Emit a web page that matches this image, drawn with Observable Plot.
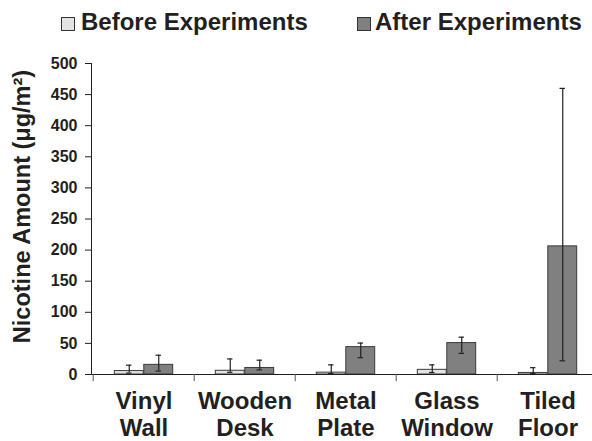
<!DOCTYPE html>
<html>
<head>
<meta charset="utf-8">
<script src="https://cdn.jsdelivr.net/npm/d3@7"></script>
<script src="https://cdn.jsdelivr.net/npm/@observablehq/plot@0.6"></script>
<style>
  html, body { margin: 0; padding: 0; background: #fff; }
  body { width: 592px; height: 441px; overflow: hidden; font-family: "Liberation Sans", Arial, sans-serif; color: #231f20; }
  #legend { position: relative; height: 42px; font-weight: bold; font-size: 24px; line-height: 24px; }
  .sw { position: absolute; top: 17px; width: 12px; height: 12px; border: 1px solid #333; }
  .lt { position: absolute; top: 10px; white-space: nowrap; }
  svg { display: block; }
</style>
</head>
<body>
<div id="legend"></div>
<div id="chart"></div>
<script>
const categories = ["Vinyl Wall", "Wooden Desk", "Metal Plate", "Glass Window", "Tiled Floor"];
const seriesNames = ["Before Experiments", "After Experiments"];
const beforeValues = [5.5, 6, 3, 7.5, 2.5];
const beforeLow = [2.3, 3.5, 1.6, 3.2, 1.5];
const beforeHigh = [15, 25, 15.5, 15.5, 11];
const afterValues = [15.5, 10.5, 44, 50.5, 206];
const afterLow = [5.5, 7.5, 27, 34, 22];
const afterHigh = [31, 23, 50.5, 60, 460];
const yTicks = [0, 50, 100, 150, 200, 250, 300, 350, 400, 450, 500];
const yTitle = "Nicotine Amount (μg/m²)";
const colors = ["#e3e3e3", "#808080"];

const rows = categories.map((c, i) => ({
  cat: c,
  before: beforeValues[i], bLo: beforeLow[i], bHi: beforeHigh[i],
  after: afterValues[i], aLo: afterLow[i], aHi: afterHigh[i]
}));

// legend
const legend = document.getElementById("legend");
const swX = [61, 357];
const txX = [81, 375];
seriesNames.forEach((s, i) => {
  const sw = document.createElement("span");
  sw.className = "sw";
  sw.style.left = swX[i] + "px";
  sw.style.background = colors[i];
  const t = document.createElement("span");
  t.className = "lt";
  t.style.left = txX[i] + "px";
  t.textContent = s;
  legend.appendChild(sw);
  legend.appendChild(t);
});

const step = (599 - 91) / categories.length;
const barW = 29.5;
const half = step / 2;
const capW = 6;
const ink = "#231f20";

const chart = Plot.plot({
  width: 592,
  height: 399,
  marginLeft: 91,
  marginRight: 0,
  marginTop: 21,
  marginBottom: 67,
  style: { fontFamily: "'Liberation Sans', Arial, sans-serif", color: ink, background: "#fff" },
  x: { type: "band", domain: categories, range: [91, 599], padding: 0 },
  y: { domain: [0, 500], range: [332, 21] },
  marks: [
    // bars
    Plot.barY(rows, { x: "cat", y: "before", fill: colors[0], stroke: "#3a3a3a", strokeWidth: 1,
      insetLeft: half - barW, insetRight: half }),
    Plot.barY(rows, { x: "cat", y: "after", fill: colors[1], stroke: "#3a3a3a", strokeWidth: 1,
      insetLeft: half, insetRight: half - barW }),
    // error bars
    Plot.ruleX(rows, { x: "cat", y1: "bLo", y2: "bHi", dx: -barW / 2, stroke: ink, strokeWidth: 1.2 }),
    Plot.ruleX(rows, { x: "cat", y1: "aLo", y2: "aHi", dx: barW / 2, stroke: ink, strokeWidth: 1.2 }),
    Plot.tickY(rows, { x: "cat", y: "bHi", stroke: ink, strokeWidth: 1.2,
      insetLeft: half - barW / 2 - capW / 2, insetRight: half + barW / 2 - capW / 2 }),
    Plot.tickY(rows, { x: "cat", y: "bLo", stroke: ink, strokeWidth: 1.2,
      insetLeft: half - barW / 2 - capW / 2, insetRight: half + barW / 2 - capW / 2 }),
    Plot.tickY(rows, { x: "cat", y: "aHi", stroke: ink, strokeWidth: 1.2,
      insetLeft: half + barW / 2 - capW / 2, insetRight: half - barW / 2 - capW / 2 }),
    Plot.tickY(rows, { x: "cat", y: "aLo", stroke: ink, strokeWidth: 1.2,
      insetLeft: half + barW / 2 - capW / 2, insetRight: half - barW / 2 - capW / 2 }),
    // axes lines
    Plot.frame({ anchor: "left", stroke: ink, strokeWidth: 1 }),
    Plot.ruleY([0], { stroke: ink, strokeWidth: 1.2 }),
    // category boundary ticks
    Plot.ruleX(rows, { x: "cat", dx: -half, y1: 0, y2: -11.5, stroke: "#555", strokeWidth: 1 }),
    // y axis
    Plot.axisY(yTicks, { tickSize: 6, tickPadding: 8, fontSize: 16, fontWeight: "bold", label: null, stroke: ink }),
    Plot.text([yTitle], { frameAnchor: "left", textAnchor: "middle", rotate: -90, dx: -69, dy: -12.5,
      fontSize: 23.5, fontWeight: "bold", fill: ink }),
    // x axis labels
    Plot.axisX({ tickSize: 0, tickPadding: 15, fontSize: 24, fontWeight: "bold", lineHeight: 1.125, label: null,
      tickFormat: d => d.split(" ").join("\n") })
  ]
});
document.getElementById("chart").appendChild(chart);
</script>
</body>
</html>
